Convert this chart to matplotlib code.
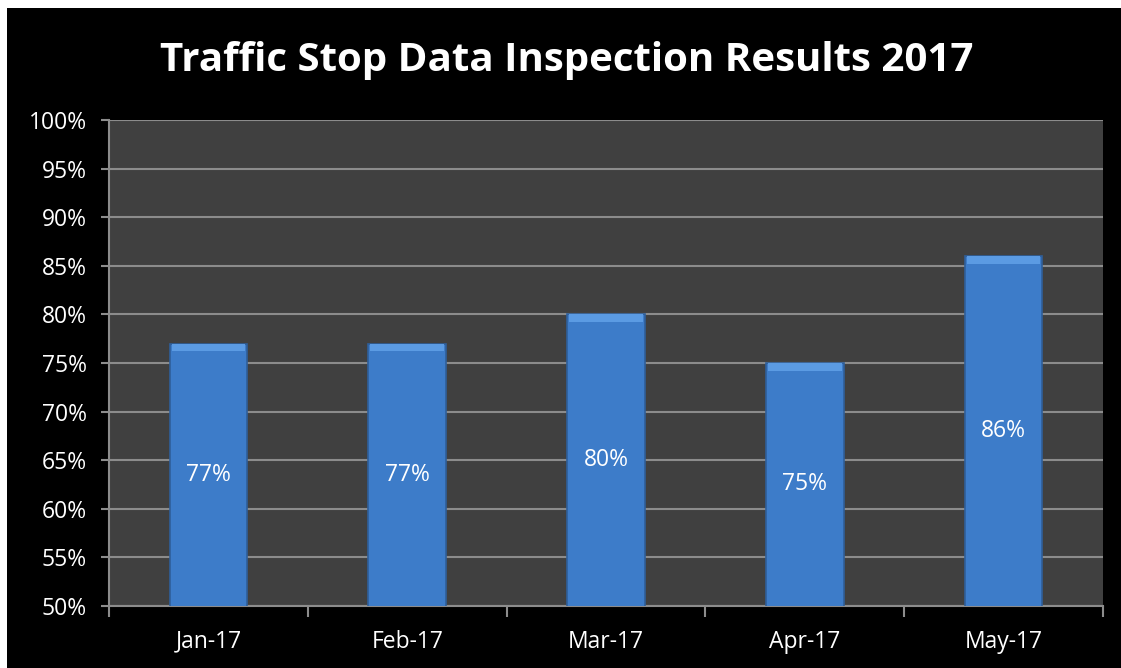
import matplotlib
matplotlib.use("Agg")
import matplotlib.pyplot as plt
from matplotlib.ticker import FixedLocator, FuncFormatter
import numpy as np

months = ["Jan-17", "Feb-17", "Mar-17", "Apr-17", "May-17"]
rates = [77, 77, 80, 75, 86]
labels = ["77%", "77%", "80%", "75%", "86%"]

plt.rcParams['font.family'] = ['Open Sans', 'DejaVu Sans']

fig = plt.figure(figsize=(11.21, 6.68), dpi=100)
fig.patch.set_facecolor("white")
# black slide background, offset a few pixels from the top-left like the original
fig.patches.append(plt.Rectangle((7 / 1121, 0), 1, 1 - 8 / 668, transform=fig.transFigure,
                                 facecolor="black", edgecolor="none", zorder=-10))

ax = fig.add_axes([109 / 1121, 1 - 606 / 668, (1103 - 109) / 1121, (606 - 120) / 668])
ax.set_facecolor("#404040")

x = np.arange(len(months))
bars = ax.bar(x, rates, width=0.39, color="#3d7cc9", edgecolor="#2f5f9a",
              linewidth=1.2, zorder=3)
# light bevel strip on top of each bar
ax.bar(x, [0.8] * len(rates), bottom=[r - 0.8 for r in rates], width=0.37,
       color="#5b9be3", edgecolor="none", zorder=3.5)
for b, lab in zip(bars, labels):
    h = b.get_height()
    ax.text(b.get_x() + b.get_width() / 2, 50 + (h - 50) / 2, lab,
            ha="center", va="center", color="white", fontsize=16.5, zorder=4)

ax.set_ylim(50, 100)
ax.set_xlim(-0.5, len(months) - 0.5)
ax.set_yticks(range(50, 101, 5))
ax.yaxis.set_major_formatter(FuncFormatter(lambda v, p: f"{int(v)}%"))
ax.set_xticks(x)
ax.set_xticklabels(months)
ax.xaxis.set_minor_locator(FixedLocator(np.arange(-0.5, len(months), 1)))

ax.grid(axis="y", color="#8c8c8c", linewidth=1.5, zorder=1)
ax.set_axisbelow(True)

for s in ["top", "right"]:
    ax.spines[s].set_visible(False)
for s in ["left", "bottom"]:
    ax.spines[s].set_color("#8c8c8c")
    ax.spines[s].set_linewidth(1.5)

ax.tick_params(axis="y", colors="#8c8c8c", labelcolor="white", labelsize=16.5,
               length=6, width=1.5, pad=10)
ax.tick_params(axis="x", which="major", length=0, labelcolor="white",
               labelsize=16.5, pad=17)
ax.tick_params(axis="x", which="minor", length=8, width=1.5, colors="#8c8c8c")

fig.text(567 / 1121, 1 - 60 / 668, "Traffic Stop Data Inspection Results 2017",
         ha="center", va="center", color="white", fontsize=29, fontweight="bold")

fig.savefig("out.png", dpi=100, facecolor=fig.get_facecolor())
